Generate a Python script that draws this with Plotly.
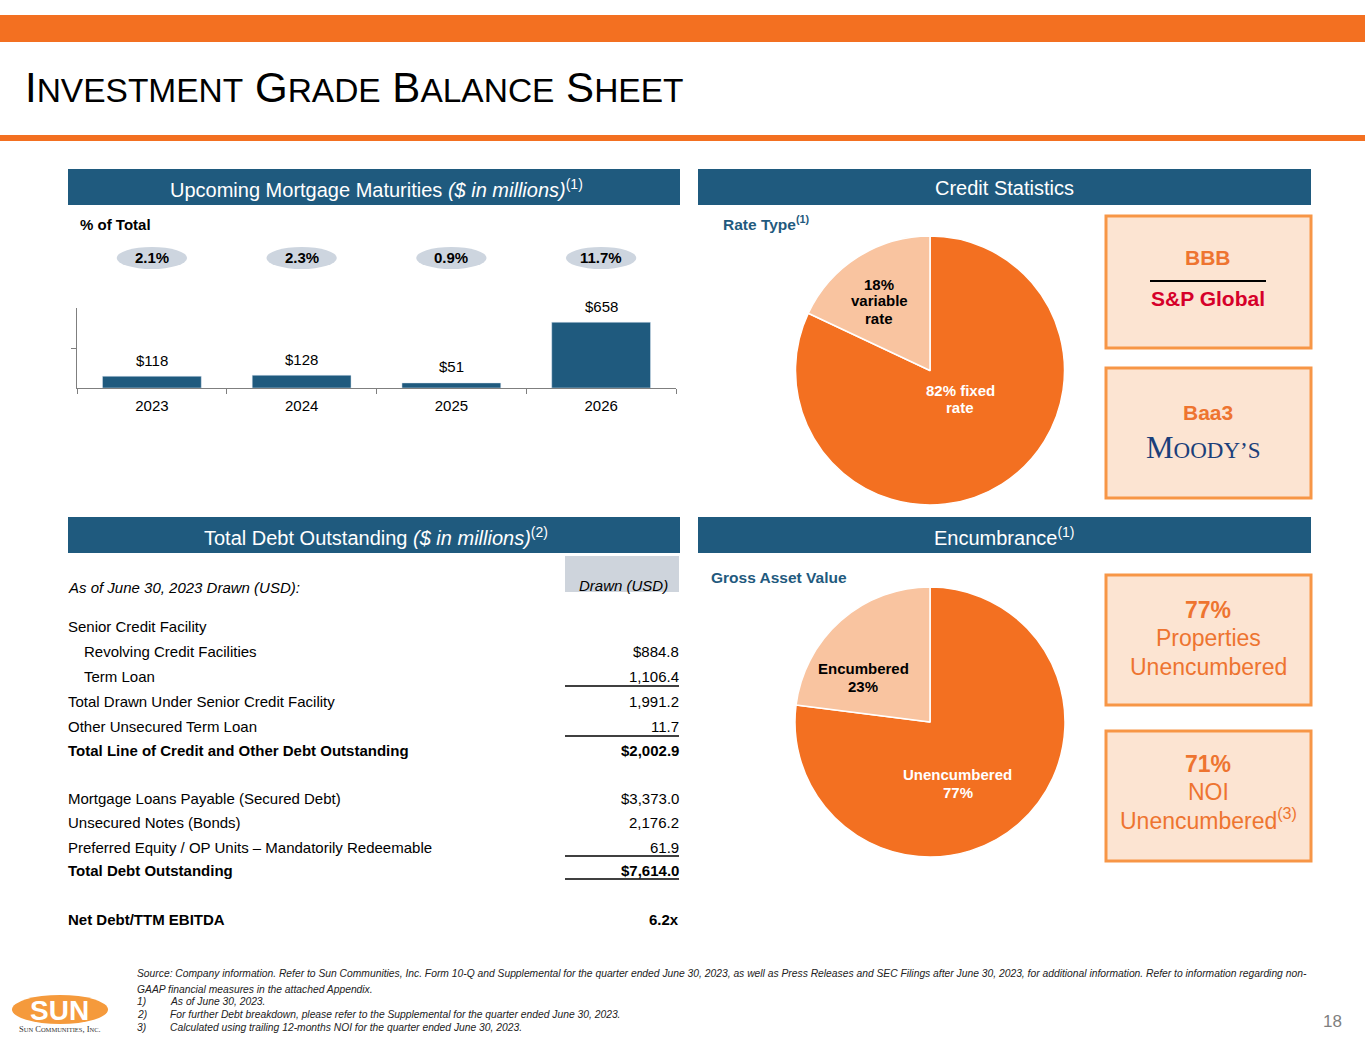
import plotly.graph_objects as go

W, H = 1365, 1055
def X(p): return p / W
def Y(p): return 1 - p / H

# ---------------- data ----------------
years = ["2023", "2024", "2025", "2026"]
maturities = [118, 128, 51, 658]
pct_of_total = [2.1, 2.3, 0.9, 11.7]

rate_labels = ["fixed rate", "variable rate"]
rate_values = [82, 18]

enc_labels = ["Unencumbered", "Encumbered"]
enc_values = [77, 23]

sp_rating = "BBB"
moodys_rating = "Baa3"
properties_unencumbered = 77
noi_unencumbered = 71

debt_labels = [
    "Senior Credit Facility",
    "Revolving Credit Facilities",
    "Term Loan",
    "Total Drawn Under Senior Credit Facility",
    "Other Unsecured Term Loan",
    "Total Line of Credit and Other Debt Outstanding",
    "Mortgage Loans Payable (Secured Debt)",
    "Unsecured Notes (Bonds)",
    "Preferred Equity / OP Units \u2013 Mandatorily Redeemable",
    "Total Debt Outstanding",
    "Net Debt/TTM EBITDA",
]
debt_values = ["", "$884.8", "1,106.4", "1,991.2", "11.7", "$2,002.9",
               "$3,373.0", "2,176.2", "61.9", "$7,614.0", "6.2x"]

# ---------------- styles ----------------
FONT = "Liberation Sans, Arial, sans-serif"
BLUE = "#1F5A7E"
ORANGE = "#F37021"
PEACH = "#F9C4A0"
BOX_FILL = "#FCE4D2"
BOX_LINE = "#F79646"
TXT_OR = "#EE7430"

row_y = [626, 651, 676, 701, 726, 750, 798, 822, 847, 870, 919]
indent_rows = {1, 2}
bold_rows = {5, 9, 10}
underline_rows = {2: 686, 4: 736, 8: 856, 9: 879}

xpos = list(range(len(years)))

fig = go.Figure()

# ---------------- bar chart ----------------
fig.add_trace(go.Bar(
    x=xpos, y=maturities, marker_color=BLUE, width=0.66,
    xaxis="x", yaxis="y", showlegend=False, hoverinfo="skip",
))

# ---------------- pies ----------------
fig.add_trace(go.Pie(
    values=rate_values, labels=rate_labels, sort=False, direction="clockwise",
    rotation=0, marker=dict(colors=[ORANGE, PEACH], line=dict(color="white", width=1.5)),
    textinfo="none", hoverinfo="skip", showlegend=False,
    domain=dict(x=[X(795), X(1065)], y=[Y(505), Y(236)]),
))
fig.add_trace(go.Pie(
    values=enc_values, labels=enc_labels, sort=False, direction="clockwise",
    rotation=0, marker=dict(colors=[ORANGE, PEACH], line=dict(color="white", width=1.5)),
    textinfo="none", hoverinfo="skip", showlegend=False,
    domain=dict(x=[X(794), X(1066)], y=[Y(857), Y(587)]),
))

shapes = []
anns = []

def rect(x0, y0, x1, y1, fill, line=None, lw=0):
    shapes.append(dict(type="rect", xref="paper", yref="paper",
                       x0=X(x0), x1=X(x1), y0=Y(y1), y1=Y(y0),
                       fillcolor=fill, line=dict(color=line or fill, width=lw),
                       layer="below"))

def hline(x0, x1, y, color="black", w=1.5):
    shapes.append(dict(type="line", xref="paper", yref="paper",
                       x0=X(x0), x1=X(x1), y0=Y(y), y1=Y(y),
                       line=dict(color=color, width=w)))

def text(t, x, y, size=14, color="black", xanchor="left", yanchor="middle", family=FONT):
    anns.append(dict(text=t, x=X(x), y=Y(y), xref="paper", yref="paper",
                     xanchor=xanchor, yanchor=yanchor, showarrow=False,
                     borderpad=0, borderwidth=0,
                     font=dict(size=size, color=color, family=family)))

# top band / title
rect(0, 15, W, 42, ORANGE)
rect(0, 135, W, 141, ORANGE)
sc = "font-size:33.5px"
title = ("I<span style='%s'>NVESTMENT</span> G<span style='%s'>RADE</span> "
         "B<span style='%s'>ALANCE</span> S<span style='%s'>HEET</span>") % (sc, sc, sc, sc)
text(title, 25, 88, size=42, color="black")

# section headers
rect(68, 169, 680, 205, BLUE)
rect(698, 169, 1311, 205, BLUE)
rect(68, 517, 680, 553, BLUE)
rect(698, 517, 1311, 553, BLUE)
text("Upcoming Mortgage Maturities <i>($ in millions)</i><sup>(1)</sup>", 376, 188, 20, "white", "center")
text("Credit Statistics", 1004, 188, 20, "white", "center")
text("Total Debt Outstanding <i>($ in millions)</i><sup>(2)</sup>", 376, 536, 20, "white", "center")
text("Encumbrance<sup>(1)</sup>", 1004, 536, 20, "white", "center")

# bar chart extras
text("<b>% of Total</b>", 80, 225, 15)
for i, p in zip(xpos, pct_of_total):
    shapes.append(dict(type="circle", xref="x", yref="paper",
                       x0=i - 0.235, x1=i + 0.235, y0=Y(269), y1=Y(247),
                       fillcolor="#CDD5DF", line=dict(width=0), layer="below"))
    anns.append(dict(text="<b>%.1f%%</b>" % p, x=i, y=Y(258), xref="x", yref="paper",
                     xanchor="center", yanchor="middle", borderpad=0, borderwidth=0,
                     showarrow=False, font=dict(size=15, color="black", family=FONT)))
for i, v in zip(xpos, maturities):
    anns.append(dict(text="$%d" % v, x=i, y=v, xref="x", yref="y", yshift=16,
                     xanchor="center", yanchor="middle", borderpad=0, borderwidth=0,
                     showarrow=False, font=dict(size=15, color="black", family=FONT)))

# pie labels (one annotation per line)
v_lines = ["%d%%" % rate_values[1]] + rate_labels[1].split(" ")
for k, ln in enumerate(v_lines):
    text("<b>%s</b>" % ln, 879, 284 + 17 * k, 15, "black", "center")
f_word, f_rest = rate_labels[0].split(" ")
text("<b>%d%% %s</b>" % (rate_values[0], f_word), 960, 390, 15, "white", "center")
text("<b>%s</b>" % f_rest, 960, 407, 15, "white", "center")
text("<b>%s</b>" % enc_labels[1], 863, 668, 15, "black", "center")
text("<b>%d%%</b>" % enc_values[1], 863, 686, 15, "black", "center")
text("<b>%s</b>" % enc_labels[0], 958, 774, 15, "white", "center")
text("<b>%d%%</b>" % enc_values[0], 958, 792, 15, "white", "center")
text("<b>Rate Type<sup>(1)</sup></b>", 723, 223, 15.5, BLUE)
text("<b>Gross Asset Value</b>", 711, 577, 15.5, BLUE)

# rating boxes
for (y0, y1) in [(216, 348), (368, 498), (575, 705), (731, 861)]:
    rect(1106, y0, 1311, y1, BOX_FILL, BOX_LINE, 3)
text("<b>%s</b>" % sp_rating, 1208, 258, 21, TXT_OR, "center")
hline(1150, 1266, 281, "black", 2)
text("<b>S&amp;P Global</b>", 1208, 298, 21, "#D6002A", "center")
text("<b>%s</b>" % moodys_rating, 1208, 413, 21, TXT_OR, "center")
text("M<span style='font-size:23px'>OODY\u2019S</span>", 1203, 448, 31, "#1B3F7A", "center",
     family="Liberation Serif, DejaVu Serif, serif")
text("<b>%d%%</b>" % properties_unencumbered, 1208, 610, 23, TXT_OR, "center")
text("Properties", 1208, 638, 23, TXT_OR, "center")
text("Unencumbered", 1208, 667, 23, TXT_OR, "center")
text("<b>%d%%</b>" % noi_unencumbered, 1208, 764, 23, TXT_OR, "center")
text("NOI", 1208, 792, 23, TXT_OR, "center")
text("Unencumbered<sup>(3)</sup>", 1208, 819, 23, TXT_OR, "center")

# debt table
rect(565, 556, 679, 592, "#CED4DC")
text("<i>As of June 30, 2023 Drawn (USD):</i>", 68, 587, 15)
text("<i>Drawn (USD)</i>", 668, 585, 15, "black", "right")
for i, (lab, val) in enumerate(zip(debt_labels, debt_values)):
    b0, b1 = ("<b>", "</b>") if i in bold_rows else ("", "")
    x = 84 if i in indent_rows else 68
    text(b0 + lab + b1, x, row_y[i], 15)
    if val:
        text(b0 + val + b1, 679, row_y[i], 15, "black", "right")
for i, yy in underline_rows.items():
    hline(565, 679, yy, "black", 1.5)

# footnotes
FN = "#222222"
FS = 10.3
text("<i>Source: Company information. Refer to Sun Communities, Inc. Form 10-Q and Supplemental for the quarter ended June 30, 2023, as well as Press Releases and SEC Filings after June 30, 2023, for additional information. Refer to information regarding non-</i>", 137, 973, FS, FN)
text("<i>GAAP financial measures in the attached Appendix.</i>", 137, 989, FS, FN)
notes = ["As of June 30, 2023.",
         "For further Debt breakdown, please refer to the Supplemental for the quarter ended June 30, 2023.",
         "Calculated using trailing 12-months NOI for the quarter ended June 30, 2023."]
for k, n in enumerate(notes):
    text("<i>%d)</i>" % (k + 1), 137, 1001 + 13 * k, FS, FN)
    text("<i>%s</i>" % n, 170, 1001 + 13 * k, FS, FN)
text("18", 1342, 1021, 17, "#7F7F7F", "right")

# logo
shapes.append(dict(type="circle", xref="paper", yref="paper",
                   x0=X(12), x1=X(108), y0=Y(1024), y1=Y(995),
                   fillcolor="#F59A3C", line=dict(width=0)))
text("<b>SUN</b>", 59, 1010, 28, "white", "center")
text("S<span style='font-size:6.5px'>UN</span> C<span style='font-size:6.5px'>OMMUNITIES</span>, I<span style='font-size:6.5px'>NC</span>.",
     60, 1029, 8.5, "#333333", "center", family="Liberation Serif, serif")

fig.update_layout(
    width=W, height=H, autosize=False, margin=dict(l=0, r=0, t=0, b=0, pad=0),
    paper_bgcolor="white", plot_bgcolor="white",
    font=dict(family=FONT, color="black"),
    shapes=shapes, annotations=anns,
    xaxis=dict(domain=[X(77), X(676)], anchor="y", range=[-0.5, 3.5],
               tickvals=xpos, ticktext=years, ticks="", ticklabelstandoff=4,
               showline=True, linecolor="#7F7F7F", linewidth=1,
               minor=dict(tickvals=[-0.5, 0.5, 1.5, 2.5, 3.5], ticks="outside", ticklen=5,
                          tickcolor="#7F7F7F", showgrid=False),
               tickfont=dict(size=15, color="black", family=FONT), showgrid=False,
               zeroline=False, automargin=False),
    yaxis=dict(domain=[Y(388), Y(308)], anchor="x", range=[0, 800],
               showline=True, linecolor="#7F7F7F", linewidth=1,
               tickvals=[400], ticks="outside", ticklen=5, tickcolor="#7F7F7F",
               showticklabels=False, showgrid=False, zeroline=False, automargin=False),
)

fig.write_html("out.html", config={"displayModeBar": False, "responsive": False},
               post_script="document.body.style.margin='0';")
